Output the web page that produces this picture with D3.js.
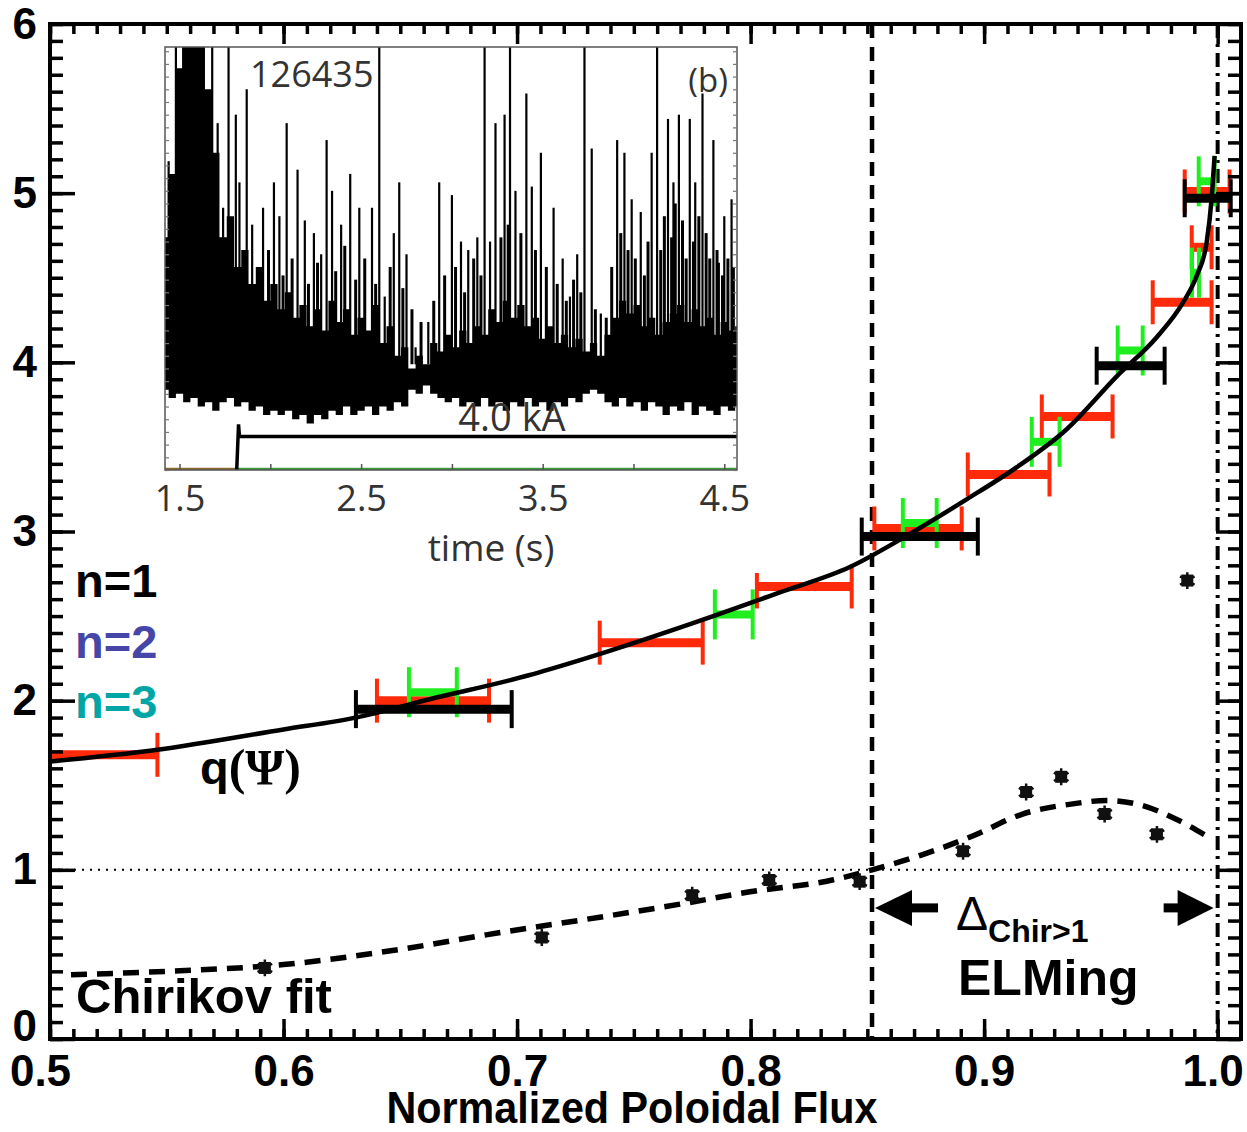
<!DOCTYPE html>
<html>
<head>
<meta charset="utf-8">
<script src="https://cdn.jsdelivr.net/npm/d3@7"></script>
<style>
  body { margin: 0; background: #fff; }
  svg text { font-family: "Liberation Sans", Arial, sans-serif; }
</style>
</head>
<body>
<svg id="chart" width="1247" height="1132"></svg>
<script>
// ---------- data ----------
// q(psi) profile
const qPsiX = [0.50, 0.546, 0.60, 0.631, 0.663, 0.705, 0.727, 0.784, 0.8125, 0.8425, 0.865, 0.8925, 0.914, 0.935, 0.957, 0.974, 0.985, 0.991, 0.9953, 0.9975, 0.9987];
const qPsiY = [1.64, 1.71, 1.83, 1.90, 2.01, 2.15, 2.24, 2.50, 2.64, 2.79, 2.96, 3.19, 3.38, 3.60, 3.92, 4.15, 4.35, 4.51, 4.71, 4.98, 5.22];

// resonance error bars (x extent + q value)
const redLo = [0.49, 0.640, 0.7354, 0.8027, 0.853, 0.893, 0.9247, 0.9722, 0.9889, 0.9859];
const redHi = [0.546, 0.688, 0.7795, 0.8433, 0.8904, 0.928, 0.955, 0.9974, 0.9974, 1.0051];
const redQ  = [1.68, 2.00, 2.343, 2.675, 3.018, 3.337, 3.68, 4.355, 4.68, 5.01];

const greenLo = [0.6537, 0.7847, 0.8652, 0.9204, 0.9572, 0.9890, 0.9919];
const greenHi = [0.6742, 0.8009, 0.8797, 0.9323, 0.9679, 0.9920, 0.9987];
const greenQ  = [2.05, 2.51, 3.05, 3.53, 4.07, 4.53, 5.07];

const blackLo = [0.631, 0.8476, 0.9482, 0.9859];
const blackHi = [0.6977, 0.8973, 0.9773, 1.0056];
const blackQ  = [1.95, 2.97, 3.98, 4.97];

// Chirikov parameter points and fit
const chirX = [0.592, 0.7106, 0.775, 0.808, 0.8467, 0.891, 0.918, 0.933, 0.9516, 0.974, 0.987];
const chirY = [0.42, 0.60, 0.85, 0.94, 0.93, 1.11, 1.46, 1.55, 1.33, 1.21, 2.71];
const fitX = [0.509, 0.55, 0.60, 0.65, 0.693, 0.7354, 0.771, 0.7997, 0.835, 0.852, 0.8737, 0.8951, 0.9165, 0.938, 0.9525, 0.9666, 0.9807, 0.9953];
const fitY = [0.38, 0.40, 0.44, 0.53, 0.63, 0.72, 0.80, 0.87, 0.94, 1.00, 1.09, 1.20, 1.33, 1.39, 1.41, 1.385, 1.31, 1.20];

const chirEdge = 0.852;   // vertical dashed line
const lcfs = 1.0;         // dash-dot line
const arrowLevel = 0.775;

const xTicks = [0.5, 0.6, 0.7, 0.8, 0.9, 1.0];
const yTicks = [0, 1, 2, 3, 4, 5, 6];

// inset: D-alpha trace (arb. units 0-10), coil current
const spikeT = [1.44,1.48,1.52,1.55,1.59,1.63,1.68,1.71,1.74,1.77,1.81,1.83,1.87,1.90,1.96,2.02,2.05,2.09,2.15,2.19,2.24,2.28,2.31,2.34,2.39,2.44,2.49,2.56,2.60,2.63,2.68,2.71,2.75,2.80,2.87,2.93,3.00,3.05,3.09,3.14,3.18,3.21,3.24,3.29,3.32,3.35,3.41,3.44,3.49,3.56,3.61,3.65,3.69,3.73,3.77,3.82,3.91,3.95,3.99,4.04,4.10,4.13,4.19,4.22,4.25,4.31,4.34,4.38,4.44,4.47,4.50,4.54];
const spikeV = [7.3,10,10,10,10,10,10,8.2,6.2,10,8.4,6.8,9.0,5.8,6.2,6.8,6.0,8.2,7.1,5.9,5.6,5.1,7.8,6.6,5.8,7.0,6.2,6.2,10,4.1,5.6,6.8,5.1,2.9,3.5,6.8,6.5,5.4,5.2,5.5,10,5.4,8.2,8.4,10,6.6,8.9,6.7,7.5,6.2,5.0,4.1,5.1,10,7.6,3.7,7.8,7.5,6.4,6.1,7.5,10,8.3,6.8,8.4,8.3,6.8,8.9,7.8,4.9,6.0,6.4];
const midT = [1.93,1.99,2.07,2.12,2.21,2.26,2.36,2.41,2.47,2.52,2.58,2.66,2.73,2.78,2.83,2.90,2.96,3.02,3.07,3.12,3.16,3.27,3.31,3.38,3.46,3.52,3.58,3.63,3.67,3.71,3.79,3.85,3.88,3.93,3.97,4.01,4.06,4.08,4.15,4.17,4.21,4.23,4.27,4.29,4.33,4.36,4.40,4.42,4.46,4.49,4.52,4.55];
const midV = [4.8,5.2,4.6,5.0,4.4,4.9,4.7,5.3,4.5,5.0,4.4,4.8,4.3,3.8,3.5,4.0,4.6,4.8,4.2,5.0,4.6,5.5,5.8,5.6,5.2,4.8,4.4,4.0,4.5,4.2,3.8,3.6,4.8,5.6,5.2,5.0,4.6,5.4,5.2,6.0,5.5,6.3,5.9,5.0,5.4,6.0,5.6,5.0,5.2,4.6,5.0,4.8];
const bodyT = [1.42,1.46,1.50,1.54,1.58,1.62,1.66,1.70,1.74,1.78,1.82,1.86,1.90,1.94,1.98,2.02,2.06,2.10,2.14,2.18,
  2.22,2.26,2.30,2.34,2.38,2.42,2.46,2.50,2.54,2.58,2.62,2.66,2.70,2.74,2.78,2.82,2.86,2.90,2.94,2.98,
  3.02,3.06,3.10,3.14,3.18,3.22,3.26,3.30,3.34,3.38,3.42,3.46,3.50,3.54,3.58,3.62,3.66,3.70,3.74,3.78,
  3.82,3.86,3.90,3.94,3.98,4.02,4.06,4.10,4.14,4.18,4.22,4.26,4.30,4.34,4.38,4.42,4.46,4.50,4.54,4.58];
const bodyTop = [5.5,7.0,9.5,10,10,10,9.0,7.5,5.5,6.0,4.8,5.2,4.4,4.8,4.0,4.4,3.8,4.2,3.6,3.9,
  3.4,3.8,3.3,4.0,3.5,3.8,3.2,3.6,3.3,3.9,3.0,3.4,2.7,2.9,2.4,2.7,2.5,3.0,2.8,3.2,
  2.9,3.3,3.0,3.4,3.2,3.8,3.5,4.0,3.6,3.9,3.4,3.6,3.1,3.4,3.0,3.2,2.9,3.1,2.8,3.0,
  2.7,3.2,3.6,4.0,3.7,3.9,3.4,3.6,3.2,3.5,3.7,3.9,3.5,3.8,3.4,3.6,3.2,3.5,3.3,3.4];
const bodyBottom = [1.9,1.7,1.8,1.6,1.7,1.5,1.6,1.4,1.6,1.7,1.5,1.6,1.4,1.5,1.3,1.4,1.3,1.4,1.2,1.3,
  1.1,1.3,1.2,1.4,1.3,1.5,1.3,1.4,1.5,1.3,1.5,1.4,1.6,1.5,1.9,1.8,2.0,1.8,1.7,1.6,
  1.7,1.5,1.6,1.5,1.7,1.5,1.6,1.4,1.6,1.5,1.7,1.5,1.6,1.4,1.6,1.5,1.7,1.6,1.8,1.9,
  1.8,1.6,1.5,1.7,1.5,1.6,1.4,1.6,1.5,1.3,1.5,1.4,1.6,1.3,1.5,1.4,1.3,1.5,1.4,1.5];
const coilT = [1.815, 1.825, 1.83, 4.57];
const coilV = [0, 1.08, 0.79, 0.79];
const insetTicks = [1.5, 2.5, 3.5, 4.5];

// ---------- scales ----------
const svg = d3.select("#chart");
const x = d3.scaleLinear().domain([0.5, 1.01]).range([50, 1241]);
const y = d3.scaleLinear().domain([0, 6]).range([1039, 24]);
const t = d3.scaleLinear().domain([1.42, 4.57]).range([165, 737]);
const v = d3.scaleLinear().domain([0, 10]).range([470, 47]);

svg.append("defs").append("clipPath").attr("id", "plot")
  .append("rect").attr("x", 50).attr("y", 24).attr("width", 1191).attr("height", 1015);
svg.select("defs").append("clipPath").attr("id", "inset")
  .append("rect").attr("x", 165).attr("y", 47).attr("width", 572).attr("height", 423);

const plot = svg.append("g").attr("clip-path", "url(#plot)");

// Chirikov = 1 reference
plot.append("line")
  .attr("x1", x(0.5)).attr("x2", x(1.01)).attr("y1", y(1)).attr("y2", y(1))
  .attr("stroke", "#000").attr("stroke-width", 2).attr("stroke-dasharray", "2,6");

// vertical markers
plot.append("line")
  .attr("x1", x(chirEdge)).attr("x2", x(chirEdge)).attr("y1", y(6)).attr("y2", y(0))
  .attr("stroke", "#000").attr("stroke-width", 4.5).attr("stroke-dasharray", "14,9");
plot.append("line")
  .attr("x1", x(lcfs)).attr("x2", x(lcfs)).attr("y1", y(6)).attr("y2", y(0))
  .attr("stroke", "#000").attr("stroke-width", 4).attr("stroke-dasharray", "14,6,3,6");

// error bars
const drawBars = (lo, hi, q, color, thick, cap) => {
  const g = plot.append("g");
  lo.forEach((d, i) => {
    g.append("line").attr("x1", x(d)).attr("x2", x(hi[i]))
      .attr("y1", y(q[i])).attr("y2", y(q[i]))
      .attr("stroke", color).attr("stroke-width", thick);
    [d, hi[i]].forEach(e => {
      g.append("line").attr("x1", x(e)).attr("x2", x(e))
        .attr("y1", y(q[i]) - cap).attr("y2", y(q[i]) + cap)
        .attr("stroke", color).attr("stroke-width", 4);
    });
  });
};
drawBars(redLo, redHi, redQ, "#ff2a0a", 9, 22);
drawBars(greenLo, greenHi, greenQ, "#1fee1f", 8, 25);
drawBars(blackLo, blackHi, blackQ, "#000", 9, 19);

// q profile
plot.append("path")
  .datum(qPsiX.map((d, i) => [d, qPsiY[i]]))
  .attr("d", d3.line().x(d => x(d[0])).y(d => y(d[1])).curve(d3.curveMonotoneX))
  .attr("fill", "none").attr("stroke", "#000").attr("stroke-width", 4.5);

// Chirikov fit
plot.append("path")
  .datum(fitX.map((d, i) => [d, fitY[i]]))
  .attr("d", d3.line().x(d => x(d[0])).y(d => y(d[1])).curve(d3.curveMonotoneX))
  .attr("fill", "none").attr("stroke", "#000").attr("stroke-width", 5.5).attr("stroke-dasharray", "16,10");

// Chirikov points
const pts = plot.append("g");
chirX.forEach((d, i) => {
  pts.append("rect").attr("x", x(d) - 6).attr("y", y(chirY[i]) - 6)
    .attr("width", 12).attr("height", 12).attr("fill", "#111");
  pts.append("path").attr("transform", `translate(${x(d)},${y(chirY[i])})`)
    .attr("d", d3.symbol(d3.symbolAsterisk, 200)())
    .attr("stroke", "#111").attr("stroke-width", 2.5).attr("fill", "none");
});

// ---------- inset ----------
const inset = svg.append("g");
inset.append("rect").attr("x", 150).attr("y", 45).attr("width", 612).attr("height", 528).attr("fill", "#fff");
const ip = inset.append("g").attr("clip-path", "url(#inset)");

ip.append("path")
  .datum(bodyT.map((d, i) => ({ t: d, lo: bodyBottom[i], hi: bodyTop[i] })))
  .attr("d", d3.area().x(d => t(d.t)).y0(d => v(d.lo)).y1(d => v(d.hi)).curve(d3.curveStep))
  .attr("fill", "#000");

ip.selectAll(".mid").data(midT).join("line")
  .attr("x1", d => t(d)).attr("x2", d => t(d))
  .attr("y1", v(2.5)).attr("y2", (d, i) => v(midV[i]))
  .attr("stroke", "#000").attr("stroke-width", 3);

ip.selectAll(".spk").data(spikeT).join("line")
  .attr("x1", d => t(d)).attr("x2", d => t(d))
  .attr("y1", v(2.5)).attr("y2", (d, i) => v(spikeV[i]))
  .attr("stroke", "#000").attr("stroke-width", 2.2);

// coil current
ip.append("line").attr("x1", t(1.42)).attr("x2", t(1.815)).attr("y1", v(0) - 1).attr("y2", v(0) - 1)
  .attr("stroke", "#8a6a30").attr("stroke-width", 2.5);
ip.append("line").attr("x1", t(1.815)).attr("x2", t(4.57)).attr("y1", v(0) - 1).attr("y2", v(0) - 1)
  .attr("stroke", "#3a9a3a").attr("stroke-width", 2.5);
ip.append("path")
  .datum(coilT.map((d, i) => [d, coilV[i]]))
  .attr("d", d3.line().x(d => t(d[0])).y(d => v(d[1])))
  .attr("fill", "none").attr("stroke", "#000").attr("stroke-width", 3.5);

inset.append("rect").attr("x", 165).attr("y", 47).attr("width", 572).attr("height", 423)
  .attr("fill", "none").attr("stroke", "#555").attr("stroke-width", 1.5);

// inset ticks
const insetFont = "'Open Sans', sans-serif";
const insetAxis = inset.append("g").attr("transform", `translate(0,${v(0)})`)
  .call(d3.axisBottom(t).tickValues(insetTicks).tickSize(0).tickPadding(15).tickFormat(d3.format(".1f")));
insetAxis.select(".domain").remove();
insetAxis.selectAll("text").attr("font-size", 36).attr("fill", "#333").style("font-family", insetFont);
inset.append("g").attr("transform", `translate(0,${v(0)})`)
  .call(d3.axisBottom(t).tickValues([1.5, 2.0, 2.5, 3.0, 3.5, 4.0, 4.5]).tickSize(-6).tickFormat(""))
  .call(g => g.select(".domain").remove())
  .selectAll("line").attr("stroke", "#555").attr("stroke-width", 1.5);
[165, 737].forEach((px, k) => {
  inset.append("g").attr("transform", `translate(${px},0)`)
    .call((k ? d3.axisRight(v) : d3.axisLeft(v)).tickValues(d3.range(0, 101, 3).map(d => d / 10)).tickSize(-4).tickFormat(""))
    .call(g => g.select(".domain").remove())
    .selectAll("line").attr("stroke", "#777").attr("stroke-width", 1.2);
});

inset.append("text").attr("x", 250).attr("y", 87).attr("font-size", 36).attr("fill", "#333")
  .style("font-family", insetFont).text("126435");
inset.append("text").attr("x", 728).attr("y", 92).attr("font-size", 33).attr("fill", "#333")
  .attr("text-anchor", "end").style("font-family", insetFont).text("(b)");
inset.append("text").attr("x", 512).attr("y", 431).attr("font-size", 38).attr("fill", "#333")
  .attr("text-anchor", "middle").style("font-family", insetFont).text("4.0 kA");
inset.append("text").attr("x", 491).attr("y", 561).attr("font-size", 37).attr("fill", "#333")
  .attr("text-anchor", "middle").style("font-family", insetFont).text("time (s)");

// ---------- axes ----------
const axes = svg.append("g");
const styleAxis = g => {
  g.select(".domain").remove();
  g.selectAll("line").attr("stroke", "#000").attr("stroke-width", 3.5);
  g.selectAll("text").attr("font-size", 44).attr("font-weight", "bold").attr("fill", "#000")
    .style("font-family", "'Liberation Sans', Arial, sans-serif");
};
const xMinor = d3.range(50, 101).map(d => d / 100);
const yMinor = d3.range(0, 61).map(d => d / 10);

axes.append("g").attr("transform", `translate(0,${y(0)})`)
  .call(d3.axisBottom(x).tickValues(xMinor).tickSize(-10).tickFormat("")).call(styleAxis);
const xAx = axes.append("g").attr("transform", `translate(0,${y(0)})`)
  .call(d3.axisBottom(x).tickValues(xTicks).tickSize(-20).tickPadding(16).tickFormat(d3.format(".1f")))
  .call(styleAxis);
xAx.selectAll("text").filter(d => d === 0.5).attr("dx", -10);
xAx.selectAll("text").filter(d => d === 1.0).attr("dx", -5);

axes.append("g").attr("transform", `translate(0,${y(6)})`)
  .call(d3.axisTop(x).tickValues(xMinor).tickSize(-10).tickFormat("")).call(styleAxis);
axes.append("g").attr("transform", `translate(0,${y(6)})`)
  .call(d3.axisTop(x).tickValues(xTicks).tickSize(-20).tickFormat("")).call(styleAxis);

axes.append("g").attr("transform", `translate(${x(0.5)},0)`)
  .call(d3.axisLeft(y).tickValues(yMinor).tickSize(-13).tickFormat("")).call(styleAxis);
const yAx = axes.append("g").attr("transform", `translate(${x(0.5)},0)`)
  .call(d3.axisLeft(y).tickValues(yTicks).tickSize(-25).tickPadding(13).tickFormat(d3.format("d")))
  .call(styleAxis);
yAx.selectAll("text").filter(d => d === 0).attr("y", -13);

axes.append("g").attr("transform", `translate(${x(1.01)},0)`)
  .call(d3.axisRight(y).tickValues(yMinor).tickSize(-13).tickFormat("")).call(styleAxis);
axes.append("g").attr("transform", `translate(${x(1.01)},0)`)
  .call(d3.axisRight(y).tickValues(yTicks).tickSize(-25).tickFormat("")).call(styleAxis);

axes.append("rect").attr("x", x(0.5)).attr("y", y(6)).attr("width", x(1.01) - x(0.5)).attr("height", y(0) - y(6))
  .attr("fill", "none").attr("stroke", "#000").attr("stroke-width", 4);

// ---------- annotations ----------
const ann = svg.append("g").attr("font-weight", "bold");
ann.append("text").attr("x", 632).attr("y", 1123).attr("text-anchor", "middle").attr("font-size", 44)
  .attr("textLength", 491).attr("lengthAdjust", "spacingAndGlyphs").text("Normalized Poloidal Flux");

ann.append("text").attr("x", 75).attr("y", 597).attr("font-size", 47).attr("fill", "#000").text("n=1");
ann.append("text").attr("x", 75).attr("y", 658).attr("font-size", 47).attr("fill", "#4646a8").text("n=2");
ann.append("text").attr("x", 75).attr("y", 718).attr("font-size", 47).attr("fill", "#00a6a6").text("n=3");

const qt = ann.append("text").attr("x", 200).attr("y", 784).attr("font-size", 47);
qt.append("tspan").text("q");
qt.append("tspan").style("font-family", "'Liberation Serif', 'Times New Roman', serif").attr("font-size", 50).text("(\u03A8)");

ann.append("text").attr("x", 76).attr("y", 1013).attr("font-size", 49).text("Chirikov fit");
ann.append("text").attr("x", 958).attr("y", 995).attr("font-size", 50).text("ELMing");

const dt = ann.append("text").attr("x", 956).attr("y", 930);
dt.append("tspan").attr("font-size", 48).attr("font-weight", "normal").text("\u0394");
dt.append("tspan").attr("font-size", 32).attr("dy", 12).text("Chir>1");

// arrows across the Chirikov > 1 region
const ya = y(arrowLevel);
const xl = x(chirEdge) + 3, xr = x(lcfs) - 4;
ann.append("path").attr("d", `M${xl},${ya}L${xl + 37},${ya - 18}L${xl + 37},${ya + 18}Z`).attr("fill", "#000");
ann.append("rect").attr("x", xl + 35).attr("y", ya - 4.5).attr("width", 28).attr("height", 9).attr("fill", "#000");
ann.append("path").attr("d", `M${xr},${ya}L${xr - 36},${ya - 18}L${xr - 36},${ya + 18}Z`).attr("fill", "#000");
ann.append("rect").attr("x", xr - 50).attr("y", ya - 4.5).attr("width", 16).attr("height", 9).attr("fill", "#000");
</script>
</body>
</html>
